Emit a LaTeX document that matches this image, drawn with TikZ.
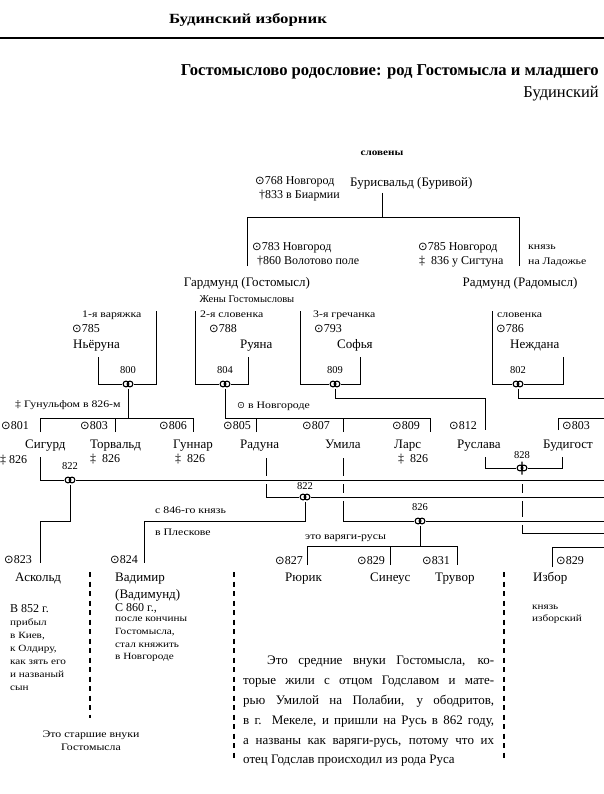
\documentclass[tikz,border=0pt]{standalone}
\usepackage{fontspec}
\usepackage{graphicx}
\setmainfont{Liberation Serif}
\newfontfamily\symf{DejaVu Sans}
\newfontfamily\widef[FakeStretch=1.18]{Liberation Serif}
\newcommand\bo{{\symf\scalebox{0.95}{⊙}}}
\begin{document}
\begin{tikzpicture}[x=1pt,y=-1pt,
  ln/.style={line width=1pt},
  dsh/.style={line width=1.1pt, dash pattern=on 5pt off 4.5pt},
  nm/.style={inner sep=0pt, font=\fontsize{13}{15}\selectfont},
  dt/.style={inner sep=0pt, font=\fontsize{12}{14}\selectfont},
  tn/.style={inner sep=0pt, font=\widef\fontsize{10}{12}\selectfont},
  nb/.style={inner sep=0pt, font=\fontsize{10.5}{12}\selectfont},
  W/.style={anchor=mid west},
  marr/.style={rectangle, minimum width=12pt, minimum height=9pt, inner sep=0pt, fill=white,
    path picture={\draw[line width=1.1pt] ([xshift=-2pt]path picture bounding box.center) circle[radius=2.9pt]
      ([xshift=2pt]path picture bounding box.center) circle[radius=2.9pt];}},
  fmarr/.style={rectangle, minimum width=12pt, minimum height=14pt, inner sep=0pt, fill=white,
    path picture={\draw[line width=1.1pt] ([xshift=-2pt]path picture bounding box.center) circle[radius=2.9pt]
      ([xshift=2pt]path picture bounding box.center) circle[radius=2.9pt]
      ([yshift=6.5pt]path picture bounding box.center) -- ([yshift=-6.5pt]path picture bounding box.center);}}
]
\useasboundingbox (0,0) rectangle (604,794);

% ---------- header ----------
\node[inner sep=0pt, font=\bfseries\fontsize{14}{16}\selectfont] (hdr) at (248,20) {\scalebox{1.2}[1]{Будинский изборник}};
\coordinate (rl) at (0,38); \coordinate (rr) at (604,38);
\draw[line width=1.3pt] (rl) -- (rr);
\node[inner sep=0pt, anchor=mid east, font=\bfseries\fontsize{16}{18}\selectfont] (ttl) at (599,73) {\resizebox{418pt}{!}{Гостомыслово родословие: род Гостомысла и младшего}};
\node[inner sep=0pt, anchor=mid east, font=\fontsize{16.5}{18}\selectfont] (ttl2) at (599,95) {Будинский};

% ---------- coordinates ----------
\coordinate (b0) at (382,193);
\coordinate (b1) at (382,218);
\coordinate (hL) at (247,218); \coordinate (hR) at (519,218);
\coordinate (gL) at (247,266); \coordinate (rR) at (519,266);
\coordinate (w1a) at (98,357);  \coordinate (w1b) at (156,311);
\coordinate (w2a) at (195,311); \coordinate (w2b) at (248,357);
\coordinate (w3a) at (300,311); \coordinate (w3b) at (360,357);
\coordinate (w4a) at (492,311); \coordinate (w4b) at (563,357);
\coordinate (y0) at (0,398); \coordinate (y1) at (0,418);
\coordinate (y2) at (0,521); \coordinate (y3) at (0,546);
\coordinate (a801) at (40,432); \coordinate (a803) at (115,432); \coordinate (a806) at (193,432);
\coordinate (a805) at (256,432); \coordinate (a807) at (343,432); \coordinate (a809) at (430,432);
\coordinate (a812) at (485,430); \coordinate (a803b) at (558,430);
\coordinate (eR0) at (604,398); \coordinate (eR1) at (604,418);
\coordinate (eR2) at (604,480); \coordinate (eR3) at (604,497);
\coordinate (eR4) at (604,521); \coordinate (eR5) at (604,533);
\coordinate (eR6) at (604,547);
\coordinate (s0) at (40,457);
\coordinate (r0) at (266,458); \coordinate (r1) at (266,476); \coordinate (r2) at (266,484);
\coordinate (u0) at (343,458); \coordinate (u1) at (343,476); \coordinate (u2) at (343,484);
\coordinate (u3) at (343,493); \coordinate (u4) at (343,501);
\coordinate (q0) at (485,457); \coordinate (q1) at (562,457);
\coordinate (f1) at (522,484); \coordinate (f2) at (522,493); \coordinate (f3) at (522,501);
\coordinate (f4) at (522,517); \coordinate (f5) at (522,525);
\coordinate (a823) at (40,563); \coordinate (a824) at (144,563);
\coordinate (a827) at (307,565); \coordinate (a829) at (390,565); \coordinate (a831) at (457,565);
\coordinate (a829b) at (552,567);

% ---------- lines ----------
\draw[ln] (b0) -- (b1);
\draw[ln] (gL) -- (hL) -- (hR) -- (rR);

\node[marr] (m800) at (128,384) {};
\node[marr] (m804) at (225,384) {};
\node[marr] (m809) at (335,384) {};
\node[marr] (m802) at (518,384) {};
\node[marr] (m822a) at (70,480) {};
\node[fmarr] (m828) at (522,468) {};
\node[marr] (m822b) at (305,497) {};
\node[marr] (m826) at (420,521) {};

\draw[ln] (w1a) |- (m800); \draw[ln] (m800) -| (w1b);
\draw[ln] (w2a) |- (m804); \draw[ln] (m804) -| (w2b);
\draw[ln] (w3a) |- (m809); \draw[ln] (m809) -| (w3b);
\draw[ln] (w4a) |- (m802); \draw[ln] (m802) -| (w4b);

\draw[ln] (m800) -- (m800 |- y1);
\draw[ln] (a801) |- (a806 |- y1) -- (a806);
\draw[ln] (a803) -- (a803 |- y1);
\draw[ln] (m804) |- (a809 |- y1) -- (a809);
\draw[ln] (a805) -- (a805 |- y1);
\draw[ln] (a807) -- (a807 |- y1);
\draw[ln] (m809) |- (a812 |- y0) -- (a812);
\draw[ln] (m802) |- (eR0);
\draw[ln] (a803b) |- (eR1);

\draw[ln] (s0) |- (m822a); \draw[ln] (m822a) -- (eR2);
\draw[ln] (r0) -- (r1); \draw[ln] (r2) |- (m822b); \draw[ln] (m822b) -- (eR3);
\draw[ln] (u0) -- (u1); \draw[ln] (u2) -- (u3); \draw[ln] (u4) |- (m826); \draw[ln] (m826) -- (eR4);
\draw[ln] (q0) |- (m828); \draw[ln] (m828) -| (q1);
\draw[ln] (f1) -- (f2); \draw[ln] (f3) -- (f4); \draw[ln] (f5) |- (eR5);

\draw[ln] (m822a) |- (a823 |- y2) -- (a823);
\draw[ln] (m822b) |- (a824 |- y2) -- (a824);
\draw[ln] (m826) -- (m826 |- y3);
\draw[ln] (a827) |- (a831 |- y3) -- (a831);
\draw[ln] (a829) -- (a829 |- y3);
\draw[ln] (a829b) |- (eR6);

\coordinate (d1a) at (90,572); \coordinate (d1b) at (90,718);
\coordinate (d2a) at (234,572); \coordinate (d2b) at (234,760);
\coordinate (d3a) at (504,572); \coordinate (d3b) at (504,760);
\draw[dsh] (d1a) -- (d1b);
\draw[dsh] (d2a) -- (d2b);
\draw[dsh] (d3a) -- (d3b);

% ---------- texts: top ----------
\node[inner sep=0pt, font=\bfseries\widef\fontsize{9.5}{11}\selectfont] (slov) at (382,153) {словены};
\node[dt,W] (t768) at (255,182) {\bo768 Новгород};
\node[dt,W] (t833) at (259,196) {†833 в Биармии};
\node[nm,W] (bur) at (350,184) {Бурисвальд (Буривой)};
\node[dt,W] (t783) at (252,248) {\bo783 Новгород};
\node[dt,W] (t860) at (257,262) {†860 Волотово поле};
\node[dt,W] (t785) at (418,248) {\bo785 Новгород};
\node[dt,W] (t836) at (419,262) {‡\ \ 836 у Сигтуна};
\node[tn,W] (kn1) at (528,247) {князь};
\node[tn,W] (kn2) at (528,262) {на Ладожье};
\node[nm] (gard) at (247,283) {Гардмунд (Гостомысл)};
\node[nb] (zheny) at (247,299) {Жены Гостомысловы};
\node[nm] (rad) at (520,283) {Радмунд (Радомысл)};

% ---------- wives ----------
\node[tn,W] (v1) at (82,315) {1-я варяжка};
\node[dt,W] (b785) at (72,330) {\bo785};
\node[nm,W] (nyor) at (73,346) {Ньёруна};
\node[nb] (n800) at (128,370) {800};
\node[tn,W] (v2) at (200,315) {2-я словенка};
\node[dt,W] (b788) at (209,330) {\bo788};
\node[nm,W] (ruya) at (240,346) {Руяна};
\node[nb] (n804) at (225,370) {804};
\node[tn,W] (v3) at (313,315) {3-я гречанка};
\node[dt,W] (b793) at (314,330) {\bo793};
\node[nm,W] (sof) at (337,346) {Софья};
\node[nb] (n809) at (335,370) {809};
\node[tn,W] (v4) at (497,315) {словенка};
\node[dt,W] (b786) at (496,330) {\bo786};
\node[nm,W] (nezh) at (510,346) {Неждана};
\node[nb] (n802) at (518,370) {802};

% ---------- children ----------
\node[tn,W] (gun) at (15,405) {‡ Гунульфом в 826-м};
\node[tn,W] (vnov) at (237,406) {\bo\ в Новгороде};
\node[dt,W] (b801) at (1,427) {\bo801};
\node[dt,W] (b803) at (80,427) {\bo803};
\node[dt,W] (b806) at (159,427) {\bo806};
\node[dt,W] (b805) at (223,427) {\bo805};
\node[dt,W] (b807) at (302,427) {\bo807};
\node[dt,W] (b809) at (392,427) {\bo809};
\node[dt,W] (b812) at (449,427) {\bo812};
\node[dt,W] (b803r) at (562,427) {\bo803};

\node[nm,W] (sig) at (25,446) {Сигурд};
\node[nm,W] (torv) at (90,446) {Торвальд};
\node[nm,W] (gunn) at (173,446) {Гуннар};
\node[nm,W] (radu) at (240,446) {Радуна};
\node[nm,W] (umi) at (325,446) {Умила};
\node[nm,W] (lars) at (394,446) {Ларс};
\node[nm,W] (rusl) at (457,446) {Руслава};
\node[nm,W] (budi) at (543,446) {Будигост};

\node[dt,W] (x1) at (0,461) {‡\ 826};
\node[dt,W] (x2) at (90,460) {‡\ \ 826};
\node[dt,W] (x3) at (175,460) {‡\ \ 826};
\node[dt,W] (x4) at (398,460) {‡\ \ 826};

\node[nb] (n822a) at (70,466) {822};
\node[nb] (n828) at (522,455) {828};
\node[nb] (n822b) at (305,486) {822};
\node[nb] (n826) at (420,507) {826};

\node[tn,W] (pl1) at (155,511) {с 846-го князь};
\node[tn,W] (pl2) at (155,533) {в Плескове};
\node[tn,W] (var) at (305,537) {это варяги-русы};

% ---------- grandchildren ----------
\node[dt,W] (b823) at (4,561) {\bo823};
\node[dt,W] (b824) at (110,561) {\bo824};
\node[dt,W] (b827) at (275,562) {\bo827};
\node[dt,W] (b829) at (357,562) {\bo829};
\node[dt,W] (b831) at (422,562) {\bo831};
\node[dt,W] (b829r) at (556,562) {\bo829};

\node[nm,W] (ask) at (15,579) {Аскольд};
\node[nm,W] (vad) at (115,579) {Вадимир};
\node[nm,W] (vadm) at (115,596) {(Вадимунд)};
\node[nm,W] (ryu) at (285,579) {Рюрик};
\node[nm,W] (sin) at (370,579) {Синеус};
\node[nm,W] (truv) at (435,579) {Трувор};
\node[nm,W] (izb) at (533,579) {Избор};

% ---------- notes ----------
\node[dt,W] (n852) at (10,610) {В\ 852 г.};
\node[inner sep=0pt, anchor=north west, align=left, font=\widef\fontsize{9.5}{13}\selectfont] (nt1) at (10,618)
  {прибыл\\в Киев,\\к Олдиру,\\как зять его\\и названый\\сын};
\node[dt,W] (n860) at (115,609) {С 860 г.,};
\node[inner sep=0pt, anchor=north west, align=left, font=\widef\fontsize{9.5}{12.7}\selectfont] (nt2) at (115,617)
  {после кончины\\Гостомысла,\\стал княжить\\в Новгороде};
\node[inner sep=0pt, align=center, font=\widef\fontsize{10}{13}\selectfont] (old) at (91,741)
  {Это старшие внуки\\Гостомысла};
\node[inner sep=0pt, anchor=north west, align=left, font=\widef\fontsize{9.5}{12}\selectfont] (kniz) at (532,605)
  {князь\\изборский};
\node[inner sep=0pt, anchor=north west, align=left, font=\fontsize{13}{19.8}\selectfont] (par) at (243,656)
  {\makebox[251pt][s]{\hspace*{24pt}Это средние внуки Гостомысла, ко-}\\
   \makebox[251pt][s]{торые жили с отцом Годславом и мате-}\\
   \makebox[251pt][s]{рью Умилой на Полабии, у ободритов,}\\
   \makebox[251pt][s]{в г. Мекеле, и пришли на Русь в 862 году,}\\
   \makebox[251pt][s]{а названы как варяги-русь, потому что их}\\
   отец Годслав происходил из рода Руса};
\end{tikzpicture}
\end{document}
